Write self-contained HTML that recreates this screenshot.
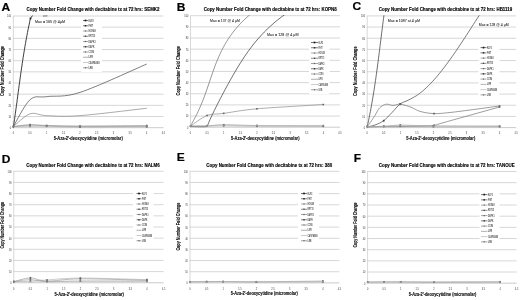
<!DOCTYPE html>
<html><head><meta charset="utf-8"><title>Figure</title><style>html,body{margin:0;padding:0;background:#fff}body{width:520px;height:300px;overflow:hidden;font-family:"Liberation Sans",sans-serif}svg{display:block}</style></head><body>
<svg width="520" height="300" viewBox="0 0 520 300">
<defs><filter id="bl" x="0" y="0" width="520" height="300" filterUnits="userSpaceOnUse"><feGaussianBlur stdDeviation="0.38"/></filter></defs>
<rect width="520" height="300" fill="#fff"/>
<g filter="url(#bl)">
<line x1="13.00" y1="127.70" x2="163.42" y2="127.70" stroke="#b4b4b4" stroke-width="0.7"/>
<line x1="13.00" y1="116.53" x2="163.42" y2="116.53" stroke="#c6c6c6" stroke-width="0.7"/>
<line x1="13.00" y1="105.36" x2="163.42" y2="105.36" stroke="#c6c6c6" stroke-width="0.7"/>
<line x1="13.00" y1="94.19" x2="163.42" y2="94.19" stroke="#c6c6c6" stroke-width="0.7"/>
<line x1="13.00" y1="83.02" x2="163.42" y2="83.02" stroke="#c6c6c6" stroke-width="0.7"/>
<line x1="13.00" y1="71.85" x2="163.42" y2="71.85" stroke="#c6c6c6" stroke-width="0.7"/>
<line x1="13.00" y1="60.68" x2="163.42" y2="60.68" stroke="#c6c6c6" stroke-width="0.7"/>
<line x1="13.00" y1="49.51" x2="163.42" y2="49.51" stroke="#c6c6c6" stroke-width="0.7"/>
<line x1="13.00" y1="38.34" x2="163.42" y2="38.34" stroke="#c6c6c6" stroke-width="0.7"/>
<line x1="13.00" y1="27.17" x2="163.42" y2="27.17" stroke="#c6c6c6" stroke-width="0.7"/>
<line x1="13.00" y1="16.00" x2="163.42" y2="16.00" stroke="#c6c6c6" stroke-width="0.7"/>
<line x1="13.30" y1="16.00" x2="13.30" y2="128.70" stroke="#bdbdbd" stroke-width="0.6"/>
<text transform="translate(11.10 129.10) scale(0.0800 0.1)" font-size="30.0" fill="#333" text-anchor="end" font-family="Liberation Sans, sans-serif">0</text>
<text transform="translate(11.10 117.93) scale(0.0800 0.1)" font-size="30.0" fill="#333" text-anchor="end" font-family="Liberation Sans, sans-serif">10</text>
<text transform="translate(11.10 106.76) scale(0.0800 0.1)" font-size="30.0" fill="#333" text-anchor="end" font-family="Liberation Sans, sans-serif">20</text>
<text transform="translate(11.10 95.59) scale(0.0800 0.1)" font-size="30.0" fill="#333" text-anchor="end" font-family="Liberation Sans, sans-serif">30</text>
<text transform="translate(11.10 84.42) scale(0.0800 0.1)" font-size="30.0" fill="#333" text-anchor="end" font-family="Liberation Sans, sans-serif">40</text>
<text transform="translate(11.10 73.25) scale(0.0800 0.1)" font-size="30.0" fill="#333" text-anchor="end" font-family="Liberation Sans, sans-serif">50</text>
<text transform="translate(11.10 62.08) scale(0.0800 0.1)" font-size="30.0" fill="#333" text-anchor="end" font-family="Liberation Sans, sans-serif">60</text>
<text transform="translate(11.10 50.91) scale(0.0800 0.1)" font-size="30.0" fill="#333" text-anchor="end" font-family="Liberation Sans, sans-serif">70</text>
<text transform="translate(11.10 39.74) scale(0.0800 0.1)" font-size="30.0" fill="#333" text-anchor="end" font-family="Liberation Sans, sans-serif">80</text>
<text transform="translate(11.10 28.57) scale(0.0800 0.1)" font-size="30.0" fill="#333" text-anchor="end" font-family="Liberation Sans, sans-serif">90</text>
<text transform="translate(11.10 17.40) scale(0.0800 0.1)" font-size="30.0" fill="#333" text-anchor="end" font-family="Liberation Sans, sans-serif">100</text>
<text transform="translate(13.30 133.60) scale(0.0800 0.1)" font-size="30.0" fill="#333" text-anchor="middle" font-family="Liberation Sans, sans-serif">0</text>
<text transform="translate(29.98 133.60) scale(0.0800 0.1)" font-size="30.0" fill="#333" text-anchor="middle" font-family="Liberation Sans, sans-serif">0.5</text>
<text transform="translate(46.66 133.60) scale(0.0800 0.1)" font-size="30.0" fill="#333" text-anchor="middle" font-family="Liberation Sans, sans-serif">1</text>
<text transform="translate(63.34 133.60) scale(0.0800 0.1)" font-size="30.0" fill="#333" text-anchor="middle" font-family="Liberation Sans, sans-serif">1.5</text>
<text transform="translate(80.02 133.60) scale(0.0800 0.1)" font-size="30.0" fill="#333" text-anchor="middle" font-family="Liberation Sans, sans-serif">2</text>
<text transform="translate(96.70 133.60) scale(0.0800 0.1)" font-size="30.0" fill="#333" text-anchor="middle" font-family="Liberation Sans, sans-serif">2.5</text>
<text transform="translate(113.38 133.60) scale(0.0800 0.1)" font-size="30.0" fill="#333" text-anchor="middle" font-family="Liberation Sans, sans-serif">3</text>
<text transform="translate(130.06 133.60) scale(0.0800 0.1)" font-size="30.0" fill="#333" text-anchor="middle" font-family="Liberation Sans, sans-serif">3.5</text>
<text transform="translate(146.74 133.60) scale(0.0800 0.1)" font-size="30.0" fill="#333" text-anchor="middle" font-family="Liberation Sans, sans-serif">4</text>
<text transform="translate(163.42 133.60) scale(0.0800 0.1)" font-size="30.0" fill="#333" text-anchor="middle" font-family="Liberation Sans, sans-serif">4.5</text>
<clipPath id="cA"><rect x="12.30" y="15.40" width="152.12" height="114.70"/></clipPath>
<g clip-path="url(#cA)" fill="none">
<path d="M13.30 127.70 C13.37 127.23 13.58 125.83 13.71 124.90 C13.85 123.97 13.99 123.03 14.12 122.10 C14.26 121.17 14.39 120.23 14.53 119.30 C14.66 118.37 14.79 117.43 14.92 116.50 C15.05 115.57 15.19 114.63 15.32 113.70 C15.45 112.77 15.57 111.83 15.70 110.90 C15.83 109.97 15.96 109.03 16.09 108.10 C16.21 107.17 16.34 106.23 16.47 105.30 C16.59 104.37 16.72 103.43 16.85 102.50 C16.97 101.57 17.10 100.63 17.22 99.70 C17.35 98.77 17.47 97.83 17.60 96.90 C17.72 95.97 17.85 95.03 17.98 94.10 C18.10 93.17 18.23 92.23 18.35 91.30 C18.48 90.37 18.60 89.43 18.73 88.50 C18.85 87.57 18.98 86.63 19.11 85.70 C19.23 84.77 19.36 83.83 19.49 82.90 C19.61 81.97 19.74 81.03 19.87 80.10 C20.00 79.17 20.13 78.23 20.26 77.30 C20.39 76.37 20.52 75.43 20.65 74.50 C20.78 73.57 20.91 72.63 21.05 71.70 C21.18 70.77 21.32 69.83 21.45 68.90 C21.59 67.97 21.72 67.03 21.86 66.10 C22.00 65.17 22.14 64.23 22.28 63.30 C22.42 62.37 22.56 61.43 22.70 60.50 C22.84 59.57 22.99 58.63 23.13 57.70 C23.28 56.77 23.42 55.83 23.57 54.90 C23.72 53.97 23.87 53.03 24.02 52.10 C24.18 51.17 24.33 50.23 24.49 49.30 C24.64 48.37 24.80 47.43 24.96 46.50 C25.12 45.57 25.28 44.63 25.44 43.70 C25.61 42.77 25.77 41.83 25.94 40.90 C26.11 39.97 26.28 39.03 26.45 38.10 C26.62 37.17 26.80 36.23 26.97 35.30 C27.15 34.37 27.33 33.43 27.51 32.50 C27.69 31.57 27.88 30.63 28.06 29.70 C28.25 28.77 28.44 27.83 28.63 26.90 C28.82 25.97 29.02 25.03 29.22 24.10 C29.42 23.17 29.62 22.23 29.82 21.30 C30.02 20.37 29.99 19.45 30.44 18.50 C30.89 17.55 31.74 17.02 32.50 15.60 C33.26 14.18 34.58 10.93 35.00 10.00" stroke="#1a1a1a" stroke-width="0.85"/>
<rect x="29.65" y="17.65" width="1.7" height="1.7" fill="#1a1a1a" stroke="none"/>
<path d="M43.00 15.90 C43.75 15.87 46.75 15.73 47.50 15.70" stroke="#222" stroke-width="0.90"/>
<path d="M13.30 126.58 C16.08 122.11 24.42 104.76 29.98 99.78 C35.54 94.79 38.32 97.88 46.66 96.65 C55.00 95.42 63.34 97.84 80.02 92.40 C96.70 86.97 135.62 68.76 146.74 64.03" stroke="#484848" stroke-width="0.70"/>
<path d="M13.30 126.58 C16.08 124.46 24.42 115.67 29.98 113.85 C35.54 112.02 38.32 115.34 46.66 115.64 C55.00 115.93 63.34 116.87 80.02 115.64 C96.70 114.41 135.62 109.49 146.74 108.26" stroke="#7c7c7c" stroke-width="0.65"/>
<path d="M13.30 126.58 C16.08 126.36 24.42 125.39 29.98 125.24 C35.54 125.09 38.32 125.47 46.66 125.69 C55.00 125.91 63.34 126.47 80.02 126.58 C96.70 126.69 135.62 126.40 146.74 126.36" stroke="#777" stroke-width="0.50"/>
<rect x="12.50" y="125.78" width="1.6" height="1.6" fill="#444" stroke="none"/>
<rect x="29.18" y="124.44" width="1.6" height="1.6" fill="#444" stroke="none"/>
<rect x="45.86" y="124.89" width="1.6" height="1.6" fill="#444" stroke="none"/>
<rect x="79.22" y="125.78" width="1.6" height="1.6" fill="#444" stroke="none"/>
<rect x="145.94" y="125.56" width="1.6" height="1.6" fill="#444" stroke="none"/>
<path d="M13.30 126.58 C16.08 126.49 24.42 126.06 29.98 126.02 C35.54 125.99 38.32 126.19 46.66 126.36 C55.00 126.53 63.34 126.96 80.02 127.03 C96.70 127.10 135.62 126.84 146.74 126.81" stroke="#9a9a9a" stroke-width="0.50"/>
<rect x="12.50" y="125.78" width="1.6" height="1.6" fill="#666" stroke="none"/>
<rect x="29.18" y="125.22" width="1.6" height="1.6" fill="#666" stroke="none"/>
<rect x="45.86" y="125.56" width="1.6" height="1.6" fill="#666" stroke="none"/>
<rect x="79.22" y="126.23" width="1.6" height="1.6" fill="#666" stroke="none"/>
<rect x="145.94" y="126.01" width="1.6" height="1.6" fill="#666" stroke="none"/>
<path d="M13.30 126.58 C16.08 126.58 24.42 126.68 29.98 126.58 C35.54 126.49 38.32 126.10 46.66 126.02 C55.00 125.95 63.34 126.15 80.02 126.14 C96.70 126.12 135.62 125.95 146.74 125.91" stroke="#b8b8b8" stroke-width="0.50"/>
<rect x="12.50" y="125.78" width="1.6" height="1.6" fill="#999" stroke="none"/>
<rect x="29.18" y="125.78" width="1.6" height="1.6" fill="#999" stroke="none"/>
<rect x="45.86" y="125.22" width="1.6" height="1.6" fill="#999" stroke="none"/>
<rect x="79.22" y="125.34" width="1.6" height="1.6" fill="#999" stroke="none"/>
<rect x="145.94" y="125.11" width="1.6" height="1.6" fill="#999" stroke="none"/>
<path d="M13.30 126.58 C16.08 126.25 24.42 124.76 29.98 124.57 C35.54 124.39 38.32 125.22 46.66 125.47 C55.00 125.71 63.34 126.02 80.02 126.02 C96.70 126.02 135.62 125.56 146.74 125.47" stroke="#8a8a8a" stroke-width="0.50"/>
<rect x="12.50" y="125.78" width="1.6" height="1.6" fill="#777" stroke="none"/>
<rect x="29.18" y="123.77" width="1.6" height="1.6" fill="#777" stroke="none"/>
<rect x="45.86" y="124.67" width="1.6" height="1.6" fill="#777" stroke="none"/>
<rect x="79.22" y="125.22" width="1.6" height="1.6" fill="#777" stroke="none"/>
<rect x="145.94" y="124.67" width="1.6" height="1.6" fill="#777" stroke="none"/>
</g>
<rect x="81.00" y="17.50" width="21.00" height="54.50" fill="#fff"/>
<line x1="83.00" y1="20.50" x2="88.00" y2="20.50" stroke="#1a1a1a" stroke-width="0.6"/>
<rect x="84.65" y="19.65" width="1.70" height="1.70" fill="#1a1a1a"/>
<text transform="translate(88.50 21.50) scale(0.0720 0.1)" font-size="29.0" fill="#4c4c4c" font-weight="bold" font-family="Liberation Sans, sans-serif">KLF2</text>
<line x1="83.00" y1="25.75" x2="88.00" y2="25.75" stroke="#2a2a2a" stroke-width="0.6"/>
<rect x="84.75" y="25.00" width="1.50" height="1.50" fill="#2a2a2a"/>
<text transform="translate(88.50 26.75) scale(0.0720 0.1)" font-size="29.0" fill="#4c4c4c" font-weight="bold" font-family="Liberation Sans, sans-serif">FHIT</text>
<line x1="83.00" y1="31.00" x2="88.00" y2="31.00" stroke="#777" stroke-width="0.6"/>
<rect x="84.85" y="30.35" width="1.30" height="1.30" fill="#777"/>
<text transform="translate(88.50 32.00) scale(0.0720 0.1)" font-size="29.0" fill="#4c4c4c" font-weight="bold" font-family="Liberation Sans, sans-serif">HOXA9</text>
<line x1="83.00" y1="36.25" x2="88.00" y2="36.25" stroke="#444" stroke-width="0.6"/>
<rect x="84.85" y="35.60" width="1.30" height="1.30" fill="#444"/>
<text transform="translate(88.50 37.25) scale(0.0720 0.1)" font-size="29.0" fill="#4c4c4c" font-weight="bold" font-family="Liberation Sans, sans-serif">KRT15</text>
<line x1="83.00" y1="41.50" x2="88.00" y2="41.50" stroke="#666" stroke-width="0.6"/>
<rect x="84.85" y="40.85" width="1.30" height="1.30" fill="#666"/>
<text transform="translate(88.50 42.50) scale(0.0720 0.1)" font-size="29.0" fill="#4c4c4c" font-weight="bold" font-family="Liberation Sans, sans-serif">DAPK1</text>
<line x1="83.00" y1="46.75" x2="88.00" y2="46.75" stroke="#333" stroke-width="0.6"/>
<rect x="84.80" y="46.05" width="1.40" height="1.40" fill="#333"/>
<text transform="translate(88.50 47.75) scale(0.0720 0.1)" font-size="29.0" fill="#4c4c4c" font-weight="bold" font-family="Liberation Sans, sans-serif">DAPK</text>
<line x1="83.00" y1="52.00" x2="88.00" y2="52.00" stroke="#666" stroke-width="0.6"/>
<rect x="84.95" y="51.45" width="1.10" height="1.10" fill="#666"/>
<text transform="translate(88.50 53.00) scale(0.0720 0.1)" font-size="29.0" fill="#4c4c4c" font-weight="bold" font-family="Liberation Sans, sans-serif">CCR6</text>
<line x1="83.00" y1="57.25" x2="88.00" y2="57.25" stroke="#777" stroke-width="0.6"/>
<text transform="translate(88.50 58.25) scale(0.0720 0.1)" font-size="29.0" fill="#4c4c4c" font-weight="bold" font-family="Liberation Sans, sans-serif">LIFR</text>
<line x1="83.00" y1="62.50" x2="88.00" y2="62.50" stroke="#aaa" stroke-width="0.6"/>
<text transform="translate(88.50 63.50) scale(0.0720 0.1)" font-size="29.0" fill="#4c4c4c" font-weight="bold" font-family="Liberation Sans, sans-serif">CASPASE8</text>
<line x1="83.00" y1="67.75" x2="88.00" y2="67.75" stroke="#666" stroke-width="0.6"/>
<rect x="84.90" y="67.15" width="1.20" height="1.20" fill="#666"/>
<text transform="translate(88.50 68.75) scale(0.0720 0.1)" font-size="29.0" fill="#4c4c4c" font-weight="bold" font-family="Liberation Sans, sans-serif">LRB</text>
<text transform="translate(35.00 23.30) scale(0.1000 0.1)" font-size="42.0" fill="#111" stroke="#111" stroke-width="0.3" textLength="300.0" lengthAdjust="spacingAndGlyphs" font-family="Liberation Sans, sans-serif">Max = 165 @ 4μM</text>
<text transform="translate(26.50 10.90) scale(0.1000 0.1)" font-size="51.0" fill="#000" font-weight="bold" stroke="#000" stroke-width="1.4" textLength="1330.0" lengthAdjust="spacingAndGlyphs" font-family="Liberation Sans, sans-serif">Copy Number Fold Change with decitabine tx at 72 hrs: SEMK2</text>
<text transform="translate(1.50 10.50) scale(0.1060 0.1)" font-size="113.0" fill="#000" font-weight="bold" stroke="#000" stroke-width="2.0" font-family="Liberation Sans, sans-serif">A</text>
<text transform="translate(53.75 140.00) scale(0.1000 0.1)" font-size="46.0" fill="#0a0a0a" font-weight="bold" stroke="#0a0a0a" stroke-width="1.0" textLength="690.0" lengthAdjust="spacingAndGlyphs" font-family="Liberation Sans, sans-serif">5-Aza-2'-deoxycytidine (micromolar)</text>
<text transform="translate(4.10 71.00) rotate(-90) scale(0.1000 0.1)" font-size="46.0" fill="#0a0a0a" text-anchor="middle" font-weight="bold" stroke="#0a0a0a" stroke-width="1.0" textLength="500.0" lengthAdjust="spacingAndGlyphs" font-family="Liberation Sans, sans-serif">Copy Number Fold Change</text>
<line x1="190.20" y1="127.20" x2="339.90" y2="127.20" stroke="#b4b4b4" stroke-width="0.7"/>
<line x1="190.20" y1="116.05" x2="339.90" y2="116.05" stroke="#c6c6c6" stroke-width="0.7"/>
<line x1="190.20" y1="104.90" x2="339.90" y2="104.90" stroke="#c6c6c6" stroke-width="0.7"/>
<line x1="190.20" y1="93.75" x2="339.90" y2="93.75" stroke="#c6c6c6" stroke-width="0.7"/>
<line x1="190.20" y1="82.60" x2="339.90" y2="82.60" stroke="#c6c6c6" stroke-width="0.7"/>
<line x1="190.20" y1="71.45" x2="339.90" y2="71.45" stroke="#c6c6c6" stroke-width="0.7"/>
<line x1="190.20" y1="60.30" x2="339.90" y2="60.30" stroke="#c6c6c6" stroke-width="0.7"/>
<line x1="190.20" y1="49.15" x2="339.90" y2="49.15" stroke="#c6c6c6" stroke-width="0.7"/>
<line x1="190.20" y1="38.00" x2="339.90" y2="38.00" stroke="#c6c6c6" stroke-width="0.7"/>
<line x1="190.20" y1="26.85" x2="339.90" y2="26.85" stroke="#c6c6c6" stroke-width="0.7"/>
<line x1="190.20" y1="15.70" x2="339.90" y2="15.70" stroke="#c6c6c6" stroke-width="0.7"/>
<line x1="190.50" y1="15.70" x2="190.50" y2="128.20" stroke="#bdbdbd" stroke-width="0.6"/>
<text transform="translate(188.30 128.60) scale(0.0800 0.1)" font-size="30.0" fill="#333" text-anchor="end" font-family="Liberation Sans, sans-serif">0</text>
<text transform="translate(188.30 117.45) scale(0.0800 0.1)" font-size="30.0" fill="#333" text-anchor="end" font-family="Liberation Sans, sans-serif">10</text>
<text transform="translate(188.30 106.30) scale(0.0800 0.1)" font-size="30.0" fill="#333" text-anchor="end" font-family="Liberation Sans, sans-serif">20</text>
<text transform="translate(188.30 95.15) scale(0.0800 0.1)" font-size="30.0" fill="#333" text-anchor="end" font-family="Liberation Sans, sans-serif">30</text>
<text transform="translate(188.30 84.00) scale(0.0800 0.1)" font-size="30.0" fill="#333" text-anchor="end" font-family="Liberation Sans, sans-serif">40</text>
<text transform="translate(188.30 72.85) scale(0.0800 0.1)" font-size="30.0" fill="#333" text-anchor="end" font-family="Liberation Sans, sans-serif">50</text>
<text transform="translate(188.30 61.70) scale(0.0800 0.1)" font-size="30.0" fill="#333" text-anchor="end" font-family="Liberation Sans, sans-serif">60</text>
<text transform="translate(188.30 50.55) scale(0.0800 0.1)" font-size="30.0" fill="#333" text-anchor="end" font-family="Liberation Sans, sans-serif">70</text>
<text transform="translate(188.30 39.40) scale(0.0800 0.1)" font-size="30.0" fill="#333" text-anchor="end" font-family="Liberation Sans, sans-serif">80</text>
<text transform="translate(188.30 28.25) scale(0.0800 0.1)" font-size="30.0" fill="#333" text-anchor="end" font-family="Liberation Sans, sans-serif">90</text>
<text transform="translate(188.30 17.10) scale(0.0800 0.1)" font-size="30.0" fill="#333" text-anchor="end" font-family="Liberation Sans, sans-serif">100</text>
<text transform="translate(190.50 133.60) scale(0.0800 0.1)" font-size="30.0" fill="#333" text-anchor="middle" font-family="Liberation Sans, sans-serif">0</text>
<text transform="translate(207.10 133.60) scale(0.0800 0.1)" font-size="30.0" fill="#333" text-anchor="middle" font-family="Liberation Sans, sans-serif">0.5</text>
<text transform="translate(223.70 133.60) scale(0.0800 0.1)" font-size="30.0" fill="#333" text-anchor="middle" font-family="Liberation Sans, sans-serif">1</text>
<text transform="translate(240.30 133.60) scale(0.0800 0.1)" font-size="30.0" fill="#333" text-anchor="middle" font-family="Liberation Sans, sans-serif">1.5</text>
<text transform="translate(256.90 133.60) scale(0.0800 0.1)" font-size="30.0" fill="#333" text-anchor="middle" font-family="Liberation Sans, sans-serif">2</text>
<text transform="translate(273.50 133.60) scale(0.0800 0.1)" font-size="30.0" fill="#333" text-anchor="middle" font-family="Liberation Sans, sans-serif">2.5</text>
<text transform="translate(290.10 133.60) scale(0.0800 0.1)" font-size="30.0" fill="#333" text-anchor="middle" font-family="Liberation Sans, sans-serif">3</text>
<text transform="translate(306.70 133.60) scale(0.0800 0.1)" font-size="30.0" fill="#333" text-anchor="middle" font-family="Liberation Sans, sans-serif">3.5</text>
<text transform="translate(323.30 133.60) scale(0.0800 0.1)" font-size="30.0" fill="#333" text-anchor="middle" font-family="Liberation Sans, sans-serif">4</text>
<text transform="translate(339.90 133.60) scale(0.0800 0.1)" font-size="30.0" fill="#333" text-anchor="middle" font-family="Liberation Sans, sans-serif">4.5</text>
<clipPath id="cB"><rect x="189.50" y="15.10" width="151.40" height="114.50"/></clipPath>
<g clip-path="url(#cB)" fill="none">
<path d="M190.02 126.50 C190.33 125.99 191.25 124.47 191.85 123.46 C192.44 122.45 193.01 121.44 193.57 120.42 C194.13 119.41 194.67 118.40 195.20 117.38 C195.73 116.37 196.24 115.36 196.74 114.35 C197.24 113.33 197.73 112.32 198.20 111.31 C198.68 110.29 199.14 109.28 199.59 108.27 C200.04 107.26 200.47 106.24 200.90 105.23 C201.33 104.22 201.74 103.21 202.15 102.19 C202.56 101.18 202.96 100.17 203.35 99.15 C203.74 98.14 204.12 97.13 204.50 96.12 C204.87 95.10 205.24 94.09 205.61 93.08 C205.97 92.06 206.33 91.05 206.68 90.04 C207.04 89.03 207.39 88.01 207.73 87.00 C208.08 85.99 208.43 84.97 208.77 83.96 C209.11 82.95 209.45 81.94 209.80 80.92 C210.14 79.91 210.48 78.90 210.82 77.88 C211.17 76.87 211.51 75.86 211.86 74.85 C212.21 73.83 212.56 72.82 212.92 71.81 C213.27 70.79 213.63 69.78 214.00 68.77 C214.37 67.76 214.74 66.74 215.12 65.73 C215.50 64.72 215.89 63.71 216.29 62.69 C216.69 61.68 217.10 60.67 217.52 59.65 C217.94 58.64 218.37 57.63 218.82 56.62 C219.26 55.60 219.72 54.59 220.19 53.58 C220.66 52.56 221.15 51.55 221.66 50.54 C222.16 49.53 222.68 48.51 223.22 47.50 C223.76 46.49 224.32 45.47 224.90 44.46 C225.48 43.45 226.08 42.44 226.70 41.42 C227.33 40.41 227.97 39.40 228.64 38.38 C229.31 37.37 230.01 36.36 230.73 35.35 C231.45 34.33 232.20 33.32 232.98 32.31 C233.75 31.29 234.56 30.28 235.39 29.27 C236.23 28.26 237.10 27.24 238.00 26.23 C238.90 25.22 239.83 24.21 240.80 23.19 C241.77 22.18 242.77 21.17 243.82 20.15 C244.86 19.14 245.94 18.13 247.05 17.12 C248.17 16.10 249.33 15.09 250.53 14.08 C251.73 13.06 252.98 12.05 254.26 11.04 C255.55 10.03 257.60 8.51 258.26 8.00" stroke="#6a6a6a" stroke-width="0.70"/>
<path d="M190.50 126.50 C191.92 126.53 196.42 126.68 199.00 126.70 C201.58 126.72 204.59 126.80 206.00 126.60 C207.41 126.40 207.01 126.19 207.47 125.50 C207.93 124.81 208.32 123.49 208.75 122.49 C209.19 121.48 209.64 120.48 210.09 119.47 C210.54 118.47 211.00 117.47 211.47 116.46 C211.94 115.46 212.41 114.45 212.89 113.45 C213.37 112.44 213.86 111.44 214.35 110.44 C214.84 109.43 215.34 108.43 215.84 107.42 C216.34 106.42 216.84 105.41 217.35 104.41 C217.86 103.41 218.37 102.40 218.89 101.40 C219.40 100.39 219.92 99.39 220.45 98.38 C220.97 97.38 221.49 96.38 222.02 95.37 C222.55 94.37 223.08 93.36 223.62 92.36 C224.15 91.35 224.69 90.35 225.23 89.35 C225.77 88.34 226.31 87.34 226.86 86.33 C227.41 85.33 227.96 84.32 228.51 83.32 C229.06 82.32 229.62 81.31 230.18 80.31 C230.74 79.30 231.31 78.30 231.88 77.29 C232.45 76.29 233.02 75.29 233.60 74.28 C234.18 73.28 234.77 72.27 235.36 71.27 C235.95 70.26 236.55 69.26 237.15 68.26 C237.75 67.25 238.36 66.25 238.98 65.24 C239.60 64.24 240.23 63.24 240.87 62.23 C241.50 61.23 242.15 60.22 242.80 59.22 C243.46 58.21 244.12 57.21 244.80 56.21 C245.48 55.20 246.17 54.20 246.87 53.19 C247.58 52.19 248.29 51.18 249.03 50.18 C249.76 49.18 250.51 48.17 251.27 47.17 C252.03 46.16 252.81 45.16 253.61 44.15 C254.41 43.15 255.23 42.15 256.07 41.14 C256.91 40.14 257.77 39.13 258.65 38.13 C259.54 37.12 260.44 36.12 261.37 35.12 C262.30 34.11 263.26 33.11 264.24 32.10 C265.23 31.10 266.23 30.09 267.28 29.09 C268.32 28.09 269.39 27.08 270.49 26.08 C271.60 25.07 272.73 24.07 273.90 23.06 C275.08 22.06 276.28 21.06 277.53 20.05 C278.77 19.05 280.05 18.04 281.38 17.04 C282.71 16.03 284.07 15.03 285.48 14.03 C286.89 13.02 288.34 12.02 289.85 11.01 C291.35 10.01 293.72 8.50 294.50 8.00" stroke="#303030" stroke-width="0.70"/>
<path d="M190.50 126.09 C193.27 124.32 201.57 117.61 207.10 115.49 C212.63 113.37 215.40 114.49 223.70 113.37 C232.00 112.26 240.30 110.27 256.90 108.80 C273.50 107.33 312.23 105.27 323.30 104.57" stroke="#777" stroke-width="0.60"/>
<rect x="189.70" y="125.29" width="1.6" height="1.6" fill="#666" stroke="none"/>
<rect x="206.30" y="114.69" width="1.6" height="1.6" fill="#666" stroke="none"/>
<rect x="222.90" y="112.57" width="1.6" height="1.6" fill="#666" stroke="none"/>
<rect x="256.10" y="108.00" width="1.6" height="1.6" fill="#666" stroke="none"/>
<rect x="322.50" y="103.77" width="1.6" height="1.6" fill="#666" stroke="none"/>
<path d="M190.50 126.09 C193.27 126.05 201.57 126.09 207.10 125.86 C212.63 125.64 215.40 124.80 223.70 124.75 C232.00 124.69 240.30 125.34 256.90 125.53 C273.50 125.71 312.23 125.81 323.30 125.86" stroke="#777" stroke-width="0.50"/>
<rect x="189.70" y="125.29" width="1.6" height="1.6" fill="#444" stroke="none"/>
<rect x="206.30" y="125.06" width="1.6" height="1.6" fill="#444" stroke="none"/>
<rect x="222.90" y="123.95" width="1.6" height="1.6" fill="#444" stroke="none"/>
<rect x="256.10" y="124.73" width="1.6" height="1.6" fill="#444" stroke="none"/>
<rect x="322.50" y="125.06" width="1.6" height="1.6" fill="#444" stroke="none"/>
<path d="M190.50 126.09 C193.27 126.09 201.57 126.12 207.10 126.09 C212.63 126.05 215.40 125.82 223.70 125.86 C232.00 125.90 240.30 126.23 256.90 126.31 C273.50 126.38 312.23 126.31 323.30 126.31" stroke="#9a9a9a" stroke-width="0.50"/>
<rect x="189.70" y="125.29" width="1.6" height="1.6" fill="#666" stroke="none"/>
<rect x="206.30" y="125.29" width="1.6" height="1.6" fill="#666" stroke="none"/>
<rect x="222.90" y="125.06" width="1.6" height="1.6" fill="#666" stroke="none"/>
<rect x="256.10" y="125.51" width="1.6" height="1.6" fill="#666" stroke="none"/>
<rect x="322.50" y="125.51" width="1.6" height="1.6" fill="#666" stroke="none"/>
<path d="M190.50 126.09 C193.27 126.09 201.57 126.23 207.10 126.09 C212.63 125.94 215.40 125.27 223.70 125.19 C232.00 125.12 240.30 125.60 256.90 125.64 C273.50 125.68 312.23 125.45 323.30 125.42" stroke="#b8b8b8" stroke-width="0.50"/>
<rect x="189.70" y="125.29" width="1.6" height="1.6" fill="#999" stroke="none"/>
<rect x="206.30" y="125.29" width="1.6" height="1.6" fill="#999" stroke="none"/>
<rect x="222.90" y="124.39" width="1.6" height="1.6" fill="#999" stroke="none"/>
<rect x="256.10" y="124.84" width="1.6" height="1.6" fill="#999" stroke="none"/>
<rect x="322.50" y="124.62" width="1.6" height="1.6" fill="#999" stroke="none"/>
</g>
<rect x="309.00" y="39.50" width="20.50" height="54.50" fill="#fff"/>
<line x1="311.00" y1="42.50" x2="318.00" y2="42.50" stroke="#1a1a1a" stroke-width="0.6"/>
<rect x="313.65" y="41.65" width="1.70" height="1.70" fill="#1a1a1a"/>
<text transform="translate(318.50 43.50) scale(0.0620 0.1)" font-size="29.0" fill="#4c4c4c" font-weight="bold" font-family="Liberation Sans, sans-serif">KLF2</text>
<line x1="311.00" y1="47.75" x2="318.00" y2="47.75" stroke="#2a2a2a" stroke-width="0.6"/>
<rect x="313.75" y="47.00" width="1.50" height="1.50" fill="#2a2a2a"/>
<text transform="translate(318.50 48.75) scale(0.0620 0.1)" font-size="29.0" fill="#4c4c4c" font-weight="bold" font-family="Liberation Sans, sans-serif">FHIT</text>
<line x1="311.00" y1="53.00" x2="318.00" y2="53.00" stroke="#777" stroke-width="0.6"/>
<rect x="313.85" y="52.35" width="1.30" height="1.30" fill="#777"/>
<text transform="translate(318.50 54.00) scale(0.0620 0.1)" font-size="29.0" fill="#4c4c4c" font-weight="bold" font-family="Liberation Sans, sans-serif">HOXA9</text>
<line x1="311.00" y1="58.25" x2="318.00" y2="58.25" stroke="#444" stroke-width="0.6"/>
<rect x="313.85" y="57.60" width="1.30" height="1.30" fill="#444"/>
<text transform="translate(318.50 59.25) scale(0.0620 0.1)" font-size="29.0" fill="#4c4c4c" font-weight="bold" font-family="Liberation Sans, sans-serif">KRT15</text>
<line x1="311.00" y1="63.50" x2="318.00" y2="63.50" stroke="#666" stroke-width="0.6"/>
<rect x="313.85" y="62.85" width="1.30" height="1.30" fill="#666"/>
<text transform="translate(318.50 64.50) scale(0.0620 0.1)" font-size="29.0" fill="#4c4c4c" font-weight="bold" font-family="Liberation Sans, sans-serif">DAPK1</text>
<line x1="311.00" y1="68.75" x2="318.00" y2="68.75" stroke="#333" stroke-width="0.6"/>
<rect x="313.80" y="68.05" width="1.40" height="1.40" fill="#333"/>
<text transform="translate(318.50 69.75) scale(0.0620 0.1)" font-size="29.0" fill="#4c4c4c" font-weight="bold" font-family="Liberation Sans, sans-serif">DAPK</text>
<line x1="311.00" y1="74.00" x2="318.00" y2="74.00" stroke="#666" stroke-width="0.6"/>
<rect x="313.95" y="73.45" width="1.10" height="1.10" fill="#666"/>
<text transform="translate(318.50 75.00) scale(0.0620 0.1)" font-size="29.0" fill="#4c4c4c" font-weight="bold" font-family="Liberation Sans, sans-serif">CCR6</text>
<line x1="311.00" y1="79.25" x2="318.00" y2="79.25" stroke="#777" stroke-width="0.6"/>
<text transform="translate(318.50 80.25) scale(0.0620 0.1)" font-size="29.0" fill="#4c4c4c" font-weight="bold" font-family="Liberation Sans, sans-serif">LIFR</text>
<line x1="311.00" y1="84.50" x2="318.00" y2="84.50" stroke="#aaa" stroke-width="0.6"/>
<text transform="translate(318.50 85.50) scale(0.0620 0.1)" font-size="29.0" fill="#4c4c4c" font-weight="bold" font-family="Liberation Sans, sans-serif">CASPASE8</text>
<line x1="311.00" y1="89.75" x2="318.00" y2="89.75" stroke="#666" stroke-width="0.6"/>
<rect x="313.90" y="89.15" width="1.20" height="1.20" fill="#666"/>
<text transform="translate(318.50 90.75) scale(0.0620 0.1)" font-size="29.0" fill="#4c4c4c" font-weight="bold" font-family="Liberation Sans, sans-serif">LRB</text>
<text transform="translate(210.00 22.40) scale(0.1000 0.1)" font-size="42.0" fill="#111" stroke="#111" stroke-width="0.3" textLength="300.0" lengthAdjust="spacingAndGlyphs" font-family="Liberation Sans, sans-serif">Max = 137 @ 4 μM</text>
<text transform="translate(267.00 36.30) scale(0.1000 0.1)" font-size="42.0" fill="#111" stroke="#111" stroke-width="0.3" textLength="315.0" lengthAdjust="spacingAndGlyphs" font-family="Liberation Sans, sans-serif">Max = 128 @ 4 μM</text>
<text transform="translate(203.75 10.90) scale(0.1000 0.1)" font-size="51.0" fill="#000" font-weight="bold" stroke="#000" stroke-width="1.4" textLength="1330.0" lengthAdjust="spacingAndGlyphs" font-family="Liberation Sans, sans-serif">Copy Number Fold Change with decitabine tx at 72 hrs: KOPN8</text>
<text transform="translate(176.70 10.50) scale(0.1060 0.1)" font-size="113.0" fill="#000" font-weight="bold" stroke="#000" stroke-width="2.0" font-family="Liberation Sans, sans-serif">B</text>
<text transform="translate(231.00 140.00) scale(0.1000 0.1)" font-size="46.0" fill="#0a0a0a" font-weight="bold" stroke="#0a0a0a" stroke-width="1.0" textLength="685.0" lengthAdjust="spacingAndGlyphs" font-family="Liberation Sans, sans-serif">5-Aza-2'-deoxycytidine (micromolar)</text>
<text transform="translate(180.20 70.80) rotate(-90) scale(0.1000 0.1)" font-size="46.0" fill="#0a0a0a" text-anchor="middle" font-weight="bold" stroke="#0a0a0a" stroke-width="1.0" textLength="496.0" lengthAdjust="spacingAndGlyphs" font-family="Liberation Sans, sans-serif">Copy Number Fold Change</text>
<line x1="366.90" y1="127.60" x2="516.15" y2="127.60" stroke="#b4b4b4" stroke-width="0.7"/>
<line x1="366.90" y1="116.43" x2="516.15" y2="116.43" stroke="#c6c6c6" stroke-width="0.7"/>
<line x1="366.90" y1="105.26" x2="516.15" y2="105.26" stroke="#c6c6c6" stroke-width="0.7"/>
<line x1="366.90" y1="94.09" x2="516.15" y2="94.09" stroke="#c6c6c6" stroke-width="0.7"/>
<line x1="366.90" y1="82.92" x2="516.15" y2="82.92" stroke="#c6c6c6" stroke-width="0.7"/>
<line x1="366.90" y1="71.75" x2="516.15" y2="71.75" stroke="#c6c6c6" stroke-width="0.7"/>
<line x1="366.90" y1="60.58" x2="516.15" y2="60.58" stroke="#c6c6c6" stroke-width="0.7"/>
<line x1="366.90" y1="49.41" x2="516.15" y2="49.41" stroke="#c6c6c6" stroke-width="0.7"/>
<line x1="366.90" y1="38.24" x2="516.15" y2="38.24" stroke="#c6c6c6" stroke-width="0.7"/>
<line x1="366.90" y1="27.07" x2="516.15" y2="27.07" stroke="#c6c6c6" stroke-width="0.7"/>
<line x1="366.90" y1="15.90" x2="516.15" y2="15.90" stroke="#c6c6c6" stroke-width="0.7"/>
<line x1="367.20" y1="15.90" x2="367.20" y2="128.60" stroke="#bdbdbd" stroke-width="0.6"/>
<text transform="translate(365.00 129.00) scale(0.0800 0.1)" font-size="30.0" fill="#333" text-anchor="end" font-family="Liberation Sans, sans-serif">0</text>
<text transform="translate(365.00 117.83) scale(0.0800 0.1)" font-size="30.0" fill="#333" text-anchor="end" font-family="Liberation Sans, sans-serif">10</text>
<text transform="translate(365.00 106.66) scale(0.0800 0.1)" font-size="30.0" fill="#333" text-anchor="end" font-family="Liberation Sans, sans-serif">20</text>
<text transform="translate(365.00 95.49) scale(0.0800 0.1)" font-size="30.0" fill="#333" text-anchor="end" font-family="Liberation Sans, sans-serif">30</text>
<text transform="translate(365.00 84.32) scale(0.0800 0.1)" font-size="30.0" fill="#333" text-anchor="end" font-family="Liberation Sans, sans-serif">40</text>
<text transform="translate(365.00 73.15) scale(0.0800 0.1)" font-size="30.0" fill="#333" text-anchor="end" font-family="Liberation Sans, sans-serif">50</text>
<text transform="translate(365.00 61.98) scale(0.0800 0.1)" font-size="30.0" fill="#333" text-anchor="end" font-family="Liberation Sans, sans-serif">60</text>
<text transform="translate(365.00 50.81) scale(0.0800 0.1)" font-size="30.0" fill="#333" text-anchor="end" font-family="Liberation Sans, sans-serif">70</text>
<text transform="translate(365.00 39.64) scale(0.0800 0.1)" font-size="30.0" fill="#333" text-anchor="end" font-family="Liberation Sans, sans-serif">80</text>
<text transform="translate(365.00 28.47) scale(0.0800 0.1)" font-size="30.0" fill="#333" text-anchor="end" font-family="Liberation Sans, sans-serif">90</text>
<text transform="translate(365.00 17.30) scale(0.0800 0.1)" font-size="30.0" fill="#333" text-anchor="end" font-family="Liberation Sans, sans-serif">100</text>
<text transform="translate(367.20 133.60) scale(0.0800 0.1)" font-size="30.0" fill="#333" text-anchor="middle" font-family="Liberation Sans, sans-serif">0</text>
<text transform="translate(383.75 133.60) scale(0.0800 0.1)" font-size="30.0" fill="#333" text-anchor="middle" font-family="Liberation Sans, sans-serif">0.5</text>
<text transform="translate(400.30 133.60) scale(0.0800 0.1)" font-size="30.0" fill="#333" text-anchor="middle" font-family="Liberation Sans, sans-serif">1</text>
<text transform="translate(416.85 133.60) scale(0.0800 0.1)" font-size="30.0" fill="#333" text-anchor="middle" font-family="Liberation Sans, sans-serif">1.5</text>
<text transform="translate(433.40 133.60) scale(0.0800 0.1)" font-size="30.0" fill="#333" text-anchor="middle" font-family="Liberation Sans, sans-serif">2</text>
<text transform="translate(449.95 133.60) scale(0.0800 0.1)" font-size="30.0" fill="#333" text-anchor="middle" font-family="Liberation Sans, sans-serif">2.5</text>
<text transform="translate(466.50 133.60) scale(0.0800 0.1)" font-size="30.0" fill="#333" text-anchor="middle" font-family="Liberation Sans, sans-serif">3</text>
<text transform="translate(483.05 133.60) scale(0.0800 0.1)" font-size="30.0" fill="#333" text-anchor="middle" font-family="Liberation Sans, sans-serif">3.5</text>
<text transform="translate(499.60 133.60) scale(0.0800 0.1)" font-size="30.0" fill="#333" text-anchor="middle" font-family="Liberation Sans, sans-serif">4</text>
<text transform="translate(516.15 133.60) scale(0.0800 0.1)" font-size="30.0" fill="#333" text-anchor="middle" font-family="Liberation Sans, sans-serif">4.5</text>
<clipPath id="cC"><rect x="366.20" y="15.30" width="150.95" height="114.70"/></clipPath>
<g clip-path="url(#cC)" fill="none">
<path d="M367.15 127.00 C367.26 126.48 367.61 124.93 367.83 123.90 C368.06 122.86 368.28 121.83 368.50 120.79 C368.71 119.76 368.93 118.73 369.14 117.69 C369.35 116.66 369.56 115.62 369.76 114.59 C369.96 113.56 370.16 112.52 370.36 111.49 C370.56 110.45 370.75 109.42 370.95 108.38 C371.14 107.35 371.33 106.32 371.51 105.28 C371.70 104.25 371.88 103.21 372.06 102.18 C372.24 101.15 372.42 100.11 372.59 99.08 C372.77 98.04 372.94 97.01 373.11 95.97 C373.28 94.94 373.45 93.91 373.62 92.87 C373.78 91.84 373.95 90.80 374.11 89.77 C374.27 88.74 374.43 87.70 374.59 86.67 C374.74 85.63 374.90 84.60 375.05 83.56 C375.21 82.53 375.36 81.50 375.51 80.46 C375.66 79.43 375.81 78.39 375.95 77.36 C376.10 76.32 376.25 75.29 376.39 74.26 C376.53 73.22 376.68 72.19 376.82 71.15 C376.96 70.12 377.10 69.09 377.24 68.05 C377.38 67.02 377.51 65.98 377.65 64.95 C377.79 63.91 377.92 62.88 378.06 61.85 C378.19 60.81 378.32 59.78 378.46 58.74 C378.59 57.71 378.72 56.68 378.85 55.64 C378.98 54.61 379.11 53.57 379.24 52.54 C379.38 51.50 379.50 50.47 379.63 49.44 C379.76 48.40 379.89 47.37 380.02 46.33 C380.15 45.30 380.28 44.26 380.41 43.23 C380.54 42.20 380.67 41.16 380.79 40.13 C380.92 39.09 381.05 38.06 381.18 37.03 C381.31 35.99 381.44 34.96 381.57 33.92 C381.70 32.89 381.83 31.85 381.96 30.82 C382.09 29.79 382.22 28.75 382.35 27.72 C382.48 26.68 382.61 25.65 382.74 24.62 C382.88 23.58 383.01 22.55 383.14 21.51 C383.28 20.48 383.41 19.44 383.55 18.41 C383.68 17.38 383.82 16.34 383.96 15.31 C384.10 14.27 384.24 13.24 384.38 12.21 C384.52 11.17 384.66 10.14 384.80 9.10 C384.95 8.07 385.16 6.52 385.24 6.00" stroke="#3c3c3c" stroke-width="0.75"/>
<path d="M367.20 127.00 C368.50 126.67 372.25 126.05 375.00 125.00 C377.75 123.95 380.87 122.78 383.70 120.70 C386.53 118.62 389.25 115.28 392.00 112.50 C394.75 109.72 397.53 106.03 400.20 104.00 C402.87 101.97 405.37 101.64 408.00 100.30 C410.63 98.96 414.37 96.89 416.00 95.97 C417.63 95.05 417.20 95.19 417.79 94.77 C418.39 94.35 418.99 93.92 419.59 93.47 C420.19 93.02 420.79 92.55 421.38 92.07 C421.98 91.59 422.58 91.09 423.18 90.58 C423.78 90.07 424.38 89.55 424.97 89.01 C425.57 88.47 426.17 87.92 426.77 87.35 C427.37 86.78 427.97 86.20 428.56 85.61 C429.16 85.01 429.76 84.40 430.36 83.78 C430.96 83.16 431.56 82.53 432.15 81.89 C432.75 81.24 433.35 80.59 433.95 79.92 C434.55 79.25 435.15 78.57 435.74 77.88 C436.34 77.19 436.94 76.48 437.54 75.77 C438.14 75.06 438.74 74.34 439.33 73.60 C439.93 72.87 440.53 72.12 441.13 71.37 C441.73 70.62 442.32 69.86 442.92 69.08 C443.52 68.31 444.12 67.53 444.72 66.74 C445.32 65.95 445.91 65.15 446.51 64.35 C447.11 63.54 447.71 62.73 448.31 61.91 C448.91 61.09 449.50 60.26 450.10 59.42 C450.70 58.58 451.30 57.74 451.90 56.89 C452.50 56.04 453.09 55.18 453.69 54.32 C454.29 53.46 454.89 52.59 455.49 51.72 C456.09 50.84 456.68 49.97 457.28 49.08 C457.88 48.20 458.48 47.31 459.08 46.41 C459.68 45.52 460.27 44.62 460.87 43.72 C461.47 42.82 462.07 41.91 462.67 41.00 C463.26 40.09 463.86 39.18 464.46 38.26 C465.06 37.35 465.66 36.43 466.26 35.51 C466.85 34.59 467.45 33.66 468.05 32.74 C468.65 31.81 469.25 30.89 469.85 29.96 C470.44 29.03 471.04 28.10 471.64 27.17 C472.24 26.24 472.84 25.30 473.44 24.37 C474.03 23.44 474.63 22.51 475.23 21.57 C475.83 20.64 476.43 19.71 477.03 18.78 C477.62 17.84 478.22 16.91 478.82 15.98 C479.42 15.05 480.02 14.12 480.62 13.20 C481.21 12.27 481.81 11.34 482.41 10.42 C483.01 9.50 483.61 8.58 484.21 7.66 C484.80 6.74 485.70 5.37 486.00 4.91" stroke="#444" stroke-width="0.70"/>
<rect x="382.85" y="119.85" width="1.7" height="1.7" fill="#444" stroke="none"/>
<rect x="399.35" y="103.15" width="1.7" height="1.7" fill="#444" stroke="none"/>
<path d="M367.20 127.00 C368.00 125.83 370.70 121.92 372.00 120.00 C373.30 118.08 373.75 117.50 375.00 115.50 C376.25 113.50 377.67 109.88 379.50 108.00 C381.33 106.12 383.75 104.63 386.00 104.20 C388.25 103.77 390.63 105.40 393.00 105.40 C395.37 105.40 397.20 103.90 400.20 104.20 C403.20 104.50 407.70 106.00 411.00 107.20 C414.30 108.40 416.17 110.33 420.00 111.40 C423.83 112.47 429.00 113.42 434.00 113.60 C439.00 113.78 444.00 113.10 450.00 112.50 C456.00 111.90 461.75 111.08 470.00 110.00 C478.25 108.92 494.58 106.67 499.50 106.00" stroke="#686868" stroke-width="0.65"/>
<rect x="399.35" y="103.35" width="1.7" height="1.7" fill="#686868" stroke="none"/>
<rect x="433.15" y="112.75" width="1.7" height="1.7" fill="#686868" stroke="none"/>
<rect x="498.65" y="105.15" width="1.7" height="1.7" fill="#686868" stroke="none"/>
<path d="M367.20 127.00 C369.95 126.93 378.20 126.67 383.70 126.60 C389.20 126.53 393.32 126.70 400.20 126.60 C407.08 126.50 419.37 126.22 425.00 126.00 C430.63 125.78 430.67 125.93 434.00 125.30 C437.33 124.67 434.08 125.25 445.00 122.20 C455.92 119.15 490.42 109.53 499.50 107.00" stroke="#686868" stroke-width="0.65"/>
<rect x="433.15" y="124.45" width="1.7" height="1.7" fill="#686868" stroke="none"/>
<rect x="498.65" y="106.15" width="1.7" height="1.7" fill="#686868" stroke="none"/>
<path d="M367.20 126.48 C369.96 126.45 378.23 126.48 383.75 126.26 C389.27 126.04 392.03 125.20 400.30 125.14 C408.57 125.09 416.85 125.74 433.40 125.92 C449.95 126.11 488.57 126.20 499.60 126.26" stroke="#777" stroke-width="0.50"/>
<rect x="366.40" y="125.68" width="1.6" height="1.6" fill="#444" stroke="none"/>
<rect x="382.95" y="125.46" width="1.6" height="1.6" fill="#444" stroke="none"/>
<rect x="399.50" y="124.34" width="1.6" height="1.6" fill="#444" stroke="none"/>
<rect x="432.60" y="125.12" width="1.6" height="1.6" fill="#444" stroke="none"/>
<rect x="498.80" y="125.46" width="1.6" height="1.6" fill="#444" stroke="none"/>
<path d="M367.20 126.48 C369.96 126.48 378.23 126.52 383.75 126.48 C389.27 126.45 392.03 126.22 400.30 126.26 C408.57 126.30 416.85 126.63 433.40 126.71 C449.95 126.78 488.57 126.71 499.60 126.71" stroke="#9a9a9a" stroke-width="0.50"/>
<rect x="366.40" y="125.68" width="1.6" height="1.6" fill="#666" stroke="none"/>
<rect x="382.95" y="125.68" width="1.6" height="1.6" fill="#666" stroke="none"/>
<rect x="399.50" y="125.46" width="1.6" height="1.6" fill="#666" stroke="none"/>
<rect x="432.60" y="125.91" width="1.6" height="1.6" fill="#666" stroke="none"/>
<rect x="498.80" y="125.91" width="1.6" height="1.6" fill="#666" stroke="none"/>
<path d="M367.20 126.48 C369.96 126.48 378.23 126.63 383.75 126.48 C389.27 126.33 392.03 125.66 400.30 125.59 C408.57 125.51 416.85 126.00 433.40 126.04 C449.95 126.07 488.57 125.85 499.60 125.81" stroke="#b8b8b8" stroke-width="0.50"/>
<rect x="366.40" y="125.68" width="1.6" height="1.6" fill="#999" stroke="none"/>
<rect x="382.95" y="125.68" width="1.6" height="1.6" fill="#999" stroke="none"/>
<rect x="399.50" y="124.79" width="1.6" height="1.6" fill="#999" stroke="none"/>
<rect x="432.60" y="125.24" width="1.6" height="1.6" fill="#999" stroke="none"/>
<rect x="498.80" y="125.01" width="1.6" height="1.6" fill="#999" stroke="none"/>
</g>
<rect x="478.50" y="44.60" width="21.00" height="54.50" fill="#fff"/>
<line x1="480.50" y1="47.60" x2="486.50" y2="47.60" stroke="#1a1a1a" stroke-width="0.6"/>
<rect x="482.65" y="46.75" width="1.70" height="1.70" fill="#1a1a1a"/>
<text transform="translate(487.00 48.60) scale(0.0660 0.1)" font-size="29.0" fill="#4c4c4c" font-weight="bold" font-family="Liberation Sans, sans-serif">KLF2</text>
<line x1="480.50" y1="52.85" x2="486.50" y2="52.85" stroke="#2a2a2a" stroke-width="0.6"/>
<rect x="482.75" y="52.10" width="1.50" height="1.50" fill="#2a2a2a"/>
<text transform="translate(487.00 53.85) scale(0.0660 0.1)" font-size="29.0" fill="#4c4c4c" font-weight="bold" font-family="Liberation Sans, sans-serif">FHIT</text>
<line x1="480.50" y1="58.10" x2="486.50" y2="58.10" stroke="#777" stroke-width="0.6"/>
<rect x="482.85" y="57.45" width="1.30" height="1.30" fill="#777"/>
<text transform="translate(487.00 59.10) scale(0.0660 0.1)" font-size="29.0" fill="#4c4c4c" font-weight="bold" font-family="Liberation Sans, sans-serif">HOXA9</text>
<line x1="480.50" y1="63.35" x2="486.50" y2="63.35" stroke="#444" stroke-width="0.6"/>
<rect x="482.85" y="62.70" width="1.30" height="1.30" fill="#444"/>
<text transform="translate(487.00 64.35) scale(0.0660 0.1)" font-size="29.0" fill="#4c4c4c" font-weight="bold" font-family="Liberation Sans, sans-serif">KRT15</text>
<line x1="480.50" y1="68.60" x2="486.50" y2="68.60" stroke="#666" stroke-width="0.6"/>
<rect x="482.85" y="67.95" width="1.30" height="1.30" fill="#666"/>
<text transform="translate(487.00 69.60) scale(0.0660 0.1)" font-size="29.0" fill="#4c4c4c" font-weight="bold" font-family="Liberation Sans, sans-serif">DAPK1</text>
<line x1="480.50" y1="73.85" x2="486.50" y2="73.85" stroke="#333" stroke-width="0.6"/>
<rect x="482.80" y="73.15" width="1.40" height="1.40" fill="#333"/>
<text transform="translate(487.00 74.85) scale(0.0660 0.1)" font-size="29.0" fill="#4c4c4c" font-weight="bold" font-family="Liberation Sans, sans-serif">DAPK</text>
<line x1="480.50" y1="79.10" x2="486.50" y2="79.10" stroke="#666" stroke-width="0.6"/>
<rect x="482.95" y="78.55" width="1.10" height="1.10" fill="#666"/>
<text transform="translate(487.00 80.10) scale(0.0660 0.1)" font-size="29.0" fill="#4c4c4c" font-weight="bold" font-family="Liberation Sans, sans-serif">CCR6</text>
<line x1="480.50" y1="84.35" x2="486.50" y2="84.35" stroke="#777" stroke-width="0.6"/>
<text transform="translate(487.00 85.35) scale(0.0660 0.1)" font-size="29.0" fill="#4c4c4c" font-weight="bold" font-family="Liberation Sans, sans-serif">LIFR</text>
<line x1="480.50" y1="89.60" x2="486.50" y2="89.60" stroke="#aaa" stroke-width="0.6"/>
<text transform="translate(487.00 90.60) scale(0.0660 0.1)" font-size="29.0" fill="#4c4c4c" font-weight="bold" font-family="Liberation Sans, sans-serif">CASPASE8</text>
<line x1="480.50" y1="94.85" x2="486.50" y2="94.85" stroke="#666" stroke-width="0.6"/>
<rect x="482.90" y="94.25" width="1.20" height="1.20" fill="#666"/>
<text transform="translate(487.00 95.85) scale(0.0660 0.1)" font-size="29.0" fill="#4c4c4c" font-weight="bold" font-family="Liberation Sans, sans-serif">LRB</text>
<text transform="translate(387.80 21.80) scale(0.1000 0.1)" font-size="42.0" fill="#111" stroke="#111" stroke-width="0.3" textLength="322.0" lengthAdjust="spacingAndGlyphs" font-family="Liberation Sans, sans-serif">Max = 1097 at 4 μM</text>
<text transform="translate(478.75 26.30) scale(0.1000 0.1)" font-size="42.0" fill="#111" stroke="#111" stroke-width="0.3" textLength="300.0" lengthAdjust="spacingAndGlyphs" font-family="Liberation Sans, sans-serif">Max = 128 @ 4 μM</text>
<text transform="translate(378.75 10.90) scale(0.1000 0.1)" font-size="51.0" fill="#000" font-weight="bold" stroke="#000" stroke-width="1.4" textLength="1335.0" lengthAdjust="spacingAndGlyphs" font-family="Liberation Sans, sans-serif">Copy Number Fold Change with decitabine tx at 72 hrs: HB1119</text>
<text transform="translate(352.40 9.90) scale(0.1060 0.1)" font-size="113.0" fill="#000" font-weight="bold" stroke="#000" stroke-width="2.0" font-family="Liberation Sans, sans-serif">C</text>
<text transform="translate(406.25 140.00) scale(0.1000 0.1)" font-size="46.0" fill="#0a0a0a" font-weight="bold" stroke="#0a0a0a" stroke-width="1.0" textLength="690.0" lengthAdjust="spacingAndGlyphs" font-family="Liberation Sans, sans-serif">5-Aza-2'-deoxycytidine (micromolar)</text>
<text transform="translate(356.80 71.20) rotate(-90) scale(0.1000 0.1)" font-size="46.0" fill="#0a0a0a" text-anchor="middle" font-weight="bold" stroke="#0a0a0a" stroke-width="1.0" textLength="496.0" lengthAdjust="spacingAndGlyphs" font-family="Liberation Sans, sans-serif">Copy Number Fold Change</text>
<line x1="13.45" y1="282.75" x2="163.60" y2="282.75" stroke="#b4b4b4" stroke-width="0.7"/>
<line x1="13.45" y1="271.60" x2="163.60" y2="271.60" stroke="#c6c6c6" stroke-width="0.7"/>
<line x1="13.45" y1="260.45" x2="163.60" y2="260.45" stroke="#c6c6c6" stroke-width="0.7"/>
<line x1="13.45" y1="249.30" x2="163.60" y2="249.30" stroke="#c6c6c6" stroke-width="0.7"/>
<line x1="13.45" y1="238.15" x2="163.60" y2="238.15" stroke="#c6c6c6" stroke-width="0.7"/>
<line x1="13.45" y1="227.00" x2="163.60" y2="227.00" stroke="#c6c6c6" stroke-width="0.7"/>
<line x1="13.45" y1="215.85" x2="163.60" y2="215.85" stroke="#c6c6c6" stroke-width="0.7"/>
<line x1="13.45" y1="204.70" x2="163.60" y2="204.70" stroke="#c6c6c6" stroke-width="0.7"/>
<line x1="13.45" y1="193.55" x2="163.60" y2="193.55" stroke="#c6c6c6" stroke-width="0.7"/>
<line x1="13.45" y1="182.40" x2="163.60" y2="182.40" stroke="#c6c6c6" stroke-width="0.7"/>
<line x1="13.45" y1="171.25" x2="163.60" y2="171.25" stroke="#c6c6c6" stroke-width="0.7"/>
<line x1="13.75" y1="171.25" x2="13.75" y2="283.75" stroke="#bdbdbd" stroke-width="0.6"/>
<text transform="translate(11.55 284.15) scale(0.0800 0.1)" font-size="30.0" fill="#333" text-anchor="end" font-family="Liberation Sans, sans-serif">0</text>
<text transform="translate(11.55 273.00) scale(0.0800 0.1)" font-size="30.0" fill="#333" text-anchor="end" font-family="Liberation Sans, sans-serif">10</text>
<text transform="translate(11.55 261.85) scale(0.0800 0.1)" font-size="30.0" fill="#333" text-anchor="end" font-family="Liberation Sans, sans-serif">20</text>
<text transform="translate(11.55 250.70) scale(0.0800 0.1)" font-size="30.0" fill="#333" text-anchor="end" font-family="Liberation Sans, sans-serif">30</text>
<text transform="translate(11.55 239.55) scale(0.0800 0.1)" font-size="30.0" fill="#333" text-anchor="end" font-family="Liberation Sans, sans-serif">40</text>
<text transform="translate(11.55 228.40) scale(0.0800 0.1)" font-size="30.0" fill="#333" text-anchor="end" font-family="Liberation Sans, sans-serif">50</text>
<text transform="translate(11.55 217.25) scale(0.0800 0.1)" font-size="30.0" fill="#333" text-anchor="end" font-family="Liberation Sans, sans-serif">60</text>
<text transform="translate(11.55 206.10) scale(0.0800 0.1)" font-size="30.0" fill="#333" text-anchor="end" font-family="Liberation Sans, sans-serif">70</text>
<text transform="translate(11.55 194.95) scale(0.0800 0.1)" font-size="30.0" fill="#333" text-anchor="end" font-family="Liberation Sans, sans-serif">80</text>
<text transform="translate(11.55 183.80) scale(0.0800 0.1)" font-size="30.0" fill="#333" text-anchor="end" font-family="Liberation Sans, sans-serif">90</text>
<text transform="translate(11.55 172.65) scale(0.0800 0.1)" font-size="30.0" fill="#333" text-anchor="end" font-family="Liberation Sans, sans-serif">100</text>
<text transform="translate(13.75 290.10) scale(0.0800 0.1)" font-size="30.0" fill="#333" text-anchor="middle" font-family="Liberation Sans, sans-serif">0</text>
<text transform="translate(30.40 290.10) scale(0.0800 0.1)" font-size="30.0" fill="#333" text-anchor="middle" font-family="Liberation Sans, sans-serif">0.5</text>
<text transform="translate(47.05 290.10) scale(0.0800 0.1)" font-size="30.0" fill="#333" text-anchor="middle" font-family="Liberation Sans, sans-serif">1</text>
<text transform="translate(63.70 290.10) scale(0.0800 0.1)" font-size="30.0" fill="#333" text-anchor="middle" font-family="Liberation Sans, sans-serif">1.5</text>
<text transform="translate(80.35 290.10) scale(0.0800 0.1)" font-size="30.0" fill="#333" text-anchor="middle" font-family="Liberation Sans, sans-serif">2</text>
<text transform="translate(97.00 290.10) scale(0.0800 0.1)" font-size="30.0" fill="#333" text-anchor="middle" font-family="Liberation Sans, sans-serif">2.5</text>
<text transform="translate(113.65 290.10) scale(0.0800 0.1)" font-size="30.0" fill="#333" text-anchor="middle" font-family="Liberation Sans, sans-serif">3</text>
<text transform="translate(130.30 290.10) scale(0.0800 0.1)" font-size="30.0" fill="#333" text-anchor="middle" font-family="Liberation Sans, sans-serif">3.5</text>
<text transform="translate(146.95 290.10) scale(0.0800 0.1)" font-size="30.0" fill="#333" text-anchor="middle" font-family="Liberation Sans, sans-serif">4</text>
<text transform="translate(163.60 290.10) scale(0.0800 0.1)" font-size="30.0" fill="#333" text-anchor="middle" font-family="Liberation Sans, sans-serif">4.5</text>
<clipPath id="cD"><rect x="12.75" y="170.65" width="151.85" height="114.50"/></clipPath>
<g clip-path="url(#cD)" fill="none">
<path d="M13.75 281.63 C16.52 281.02 24.85 278.05 30.40 277.96 C35.95 277.86 38.72 280.93 47.05 281.08 C55.38 281.23 63.70 278.98 80.35 278.85 C97.00 278.72 135.85 280.06 146.95 280.30" stroke="#777" stroke-width="0.50"/>
<rect x="12.95" y="280.83" width="1.6" height="1.6" fill="#444" stroke="none"/>
<rect x="29.60" y="277.16" width="1.6" height="1.6" fill="#444" stroke="none"/>
<rect x="46.25" y="280.28" width="1.6" height="1.6" fill="#444" stroke="none"/>
<rect x="79.55" y="278.05" width="1.6" height="1.6" fill="#444" stroke="none"/>
<rect x="146.15" y="279.50" width="1.6" height="1.6" fill="#444" stroke="none"/>
<path d="M13.75 281.63 C16.52 281.54 24.85 281.36 30.40 281.08 C35.95 280.80 38.72 280.46 47.05 279.96 C55.38 279.46 63.70 278.12 80.35 278.07 C97.00 278.01 135.85 279.37 146.95 279.63" stroke="#9a9a9a" stroke-width="0.50"/>
<rect x="12.95" y="280.83" width="1.6" height="1.6" fill="#666" stroke="none"/>
<rect x="29.60" y="280.28" width="1.6" height="1.6" fill="#666" stroke="none"/>
<rect x="46.25" y="279.16" width="1.6" height="1.6" fill="#666" stroke="none"/>
<rect x="79.55" y="277.27" width="1.6" height="1.6" fill="#666" stroke="none"/>
<rect x="146.15" y="278.83" width="1.6" height="1.6" fill="#666" stroke="none"/>
<path d="M13.75 281.63 C16.52 281.63 24.85 281.67 30.40 281.63 C35.95 281.60 38.72 281.49 47.05 281.41 C55.38 281.34 63.70 281.15 80.35 281.19 C97.00 281.23 135.85 281.56 146.95 281.63" stroke="#b8b8b8" stroke-width="0.50"/>
<rect x="12.95" y="280.83" width="1.6" height="1.6" fill="#999" stroke="none"/>
<rect x="29.60" y="280.83" width="1.6" height="1.6" fill="#999" stroke="none"/>
<rect x="46.25" y="280.61" width="1.6" height="1.6" fill="#999" stroke="none"/>
<rect x="79.55" y="280.39" width="1.6" height="1.6" fill="#999" stroke="none"/>
<rect x="146.15" y="280.83" width="1.6" height="1.6" fill="#999" stroke="none"/>
<path d="M13.75 281.63 C16.52 281.30 24.85 279.63 30.40 279.63 C35.95 279.63 38.72 281.39 47.05 281.63 C55.38 281.88 63.70 281.19 80.35 281.08 C97.00 280.97 135.85 280.98 146.95 280.97" stroke="#8a8a8a" stroke-width="0.50"/>
<rect x="12.95" y="280.83" width="1.6" height="1.6" fill="#777" stroke="none"/>
<rect x="29.60" y="278.83" width="1.6" height="1.6" fill="#777" stroke="none"/>
<rect x="46.25" y="280.83" width="1.6" height="1.6" fill="#777" stroke="none"/>
<rect x="79.55" y="280.28" width="1.6" height="1.6" fill="#777" stroke="none"/>
<rect x="146.15" y="280.17" width="1.6" height="1.6" fill="#777" stroke="none"/>
</g>
<rect x="133.00" y="190.50" width="20.50" height="54.50" fill="#fff"/>
<line x1="136.50" y1="193.50" x2="141.50" y2="193.50" stroke="#1a1a1a" stroke-width="0.6"/>
<rect x="138.15" y="192.65" width="1.70" height="1.70" fill="#1a1a1a"/>
<text transform="translate(142.00 194.50) scale(0.0660 0.1)" font-size="29.0" fill="#4c4c4c" font-weight="bold" font-family="Liberation Sans, sans-serif">KLF2</text>
<line x1="136.50" y1="198.75" x2="141.50" y2="198.75" stroke="#2a2a2a" stroke-width="0.6"/>
<rect x="138.25" y="198.00" width="1.50" height="1.50" fill="#2a2a2a"/>
<text transform="translate(142.00 199.75) scale(0.0660 0.1)" font-size="29.0" fill="#4c4c4c" font-weight="bold" font-family="Liberation Sans, sans-serif">FHIT</text>
<line x1="136.50" y1="204.00" x2="141.50" y2="204.00" stroke="#777" stroke-width="0.6"/>
<rect x="138.35" y="203.35" width="1.30" height="1.30" fill="#777"/>
<text transform="translate(142.00 205.00) scale(0.0660 0.1)" font-size="29.0" fill="#4c4c4c" font-weight="bold" font-family="Liberation Sans, sans-serif">HOXA9</text>
<line x1="136.50" y1="209.25" x2="141.50" y2="209.25" stroke="#444" stroke-width="0.6"/>
<rect x="138.35" y="208.60" width="1.30" height="1.30" fill="#444"/>
<text transform="translate(142.00 210.25) scale(0.0660 0.1)" font-size="29.0" fill="#4c4c4c" font-weight="bold" font-family="Liberation Sans, sans-serif">KRT15</text>
<line x1="136.50" y1="214.50" x2="141.50" y2="214.50" stroke="#666" stroke-width="0.6"/>
<rect x="138.35" y="213.85" width="1.30" height="1.30" fill="#666"/>
<text transform="translate(142.00 215.50) scale(0.0660 0.1)" font-size="29.0" fill="#4c4c4c" font-weight="bold" font-family="Liberation Sans, sans-serif">DAPK1</text>
<line x1="136.50" y1="219.75" x2="141.50" y2="219.75" stroke="#333" stroke-width="0.6"/>
<rect x="138.30" y="219.05" width="1.40" height="1.40" fill="#333"/>
<text transform="translate(142.00 220.75) scale(0.0660 0.1)" font-size="29.0" fill="#4c4c4c" font-weight="bold" font-family="Liberation Sans, sans-serif">DAPK</text>
<line x1="136.50" y1="225.00" x2="141.50" y2="225.00" stroke="#666" stroke-width="0.6"/>
<rect x="138.45" y="224.45" width="1.10" height="1.10" fill="#666"/>
<text transform="translate(142.00 226.00) scale(0.0660 0.1)" font-size="29.0" fill="#4c4c4c" font-weight="bold" font-family="Liberation Sans, sans-serif">CCR6</text>
<line x1="136.50" y1="230.25" x2="141.50" y2="230.25" stroke="#777" stroke-width="0.6"/>
<text transform="translate(142.00 231.25) scale(0.0660 0.1)" font-size="29.0" fill="#4c4c4c" font-weight="bold" font-family="Liberation Sans, sans-serif">LIFR</text>
<line x1="136.50" y1="235.50" x2="141.50" y2="235.50" stroke="#aaa" stroke-width="0.6"/>
<text transform="translate(142.00 236.50) scale(0.0660 0.1)" font-size="29.0" fill="#4c4c4c" font-weight="bold" font-family="Liberation Sans, sans-serif">CASPASE8</text>
<line x1="136.50" y1="240.75" x2="141.50" y2="240.75" stroke="#666" stroke-width="0.6"/>
<rect x="138.40" y="240.15" width="1.20" height="1.20" fill="#666"/>
<text transform="translate(142.00 241.75) scale(0.0660 0.1)" font-size="29.0" fill="#4c4c4c" font-weight="bold" font-family="Liberation Sans, sans-serif">LRB</text>
<text transform="translate(26.25 166.50) scale(0.1000 0.1)" font-size="51.0" fill="#000" font-weight="bold" stroke="#000" stroke-width="1.4" textLength="1335.0" lengthAdjust="spacingAndGlyphs" font-family="Liberation Sans, sans-serif">Copy Number Fold Change with decitabine tx at 72 hrs: NALM6</text>
<text transform="translate(1.70 162.90) scale(0.1060 0.1)" font-size="113.0" fill="#000" font-weight="bold" stroke="#000" stroke-width="2.0" font-family="Liberation Sans, sans-serif">D</text>
<text transform="translate(54.60 296.10) scale(0.1000 0.1)" font-size="46.0" fill="#0a0a0a" font-weight="bold" stroke="#0a0a0a" stroke-width="1.0" textLength="692.0" lengthAdjust="spacingAndGlyphs" font-family="Liberation Sans, sans-serif">5-Aza-2'-deoxycytidine (micromolar)</text>
<text transform="translate(3.80 225.30) rotate(-90) scale(0.1000 0.1)" font-size="46.0" fill="#0a0a0a" text-anchor="middle" font-weight="bold" stroke="#0a0a0a" stroke-width="1.0" textLength="466.0" lengthAdjust="spacingAndGlyphs" font-family="Liberation Sans, sans-serif">Copy Number Fold Change</text>
<line x1="189.70" y1="282.90" x2="339.40" y2="282.90" stroke="#b4b4b4" stroke-width="0.7"/>
<line x1="189.70" y1="271.74" x2="339.40" y2="271.74" stroke="#c6c6c6" stroke-width="0.7"/>
<line x1="189.70" y1="260.58" x2="339.40" y2="260.58" stroke="#c6c6c6" stroke-width="0.7"/>
<line x1="189.70" y1="249.42" x2="339.40" y2="249.42" stroke="#c6c6c6" stroke-width="0.7"/>
<line x1="189.70" y1="238.26" x2="339.40" y2="238.26" stroke="#c6c6c6" stroke-width="0.7"/>
<line x1="189.70" y1="227.10" x2="339.40" y2="227.10" stroke="#c6c6c6" stroke-width="0.7"/>
<line x1="189.70" y1="215.94" x2="339.40" y2="215.94" stroke="#c6c6c6" stroke-width="0.7"/>
<line x1="189.70" y1="204.78" x2="339.40" y2="204.78" stroke="#c6c6c6" stroke-width="0.7"/>
<line x1="189.70" y1="193.62" x2="339.40" y2="193.62" stroke="#c6c6c6" stroke-width="0.7"/>
<line x1="189.70" y1="182.46" x2="339.40" y2="182.46" stroke="#c6c6c6" stroke-width="0.7"/>
<line x1="189.70" y1="171.30" x2="339.40" y2="171.30" stroke="#c6c6c6" stroke-width="0.7"/>
<line x1="190.00" y1="171.30" x2="190.00" y2="283.90" stroke="#bdbdbd" stroke-width="0.6"/>
<text transform="translate(187.80 284.30) scale(0.0800 0.1)" font-size="30.0" fill="#333" text-anchor="end" font-family="Liberation Sans, sans-serif">0</text>
<text transform="translate(187.80 273.14) scale(0.0800 0.1)" font-size="30.0" fill="#333" text-anchor="end" font-family="Liberation Sans, sans-serif">10</text>
<text transform="translate(187.80 261.98) scale(0.0800 0.1)" font-size="30.0" fill="#333" text-anchor="end" font-family="Liberation Sans, sans-serif">20</text>
<text transform="translate(187.80 250.82) scale(0.0800 0.1)" font-size="30.0" fill="#333" text-anchor="end" font-family="Liberation Sans, sans-serif">30</text>
<text transform="translate(187.80 239.66) scale(0.0800 0.1)" font-size="30.0" fill="#333" text-anchor="end" font-family="Liberation Sans, sans-serif">40</text>
<text transform="translate(187.80 228.50) scale(0.0800 0.1)" font-size="30.0" fill="#333" text-anchor="end" font-family="Liberation Sans, sans-serif">50</text>
<text transform="translate(187.80 217.34) scale(0.0800 0.1)" font-size="30.0" fill="#333" text-anchor="end" font-family="Liberation Sans, sans-serif">60</text>
<text transform="translate(187.80 206.18) scale(0.0800 0.1)" font-size="30.0" fill="#333" text-anchor="end" font-family="Liberation Sans, sans-serif">70</text>
<text transform="translate(187.80 195.02) scale(0.0800 0.1)" font-size="30.0" fill="#333" text-anchor="end" font-family="Liberation Sans, sans-serif">80</text>
<text transform="translate(187.80 183.86) scale(0.0800 0.1)" font-size="30.0" fill="#333" text-anchor="end" font-family="Liberation Sans, sans-serif">90</text>
<text transform="translate(187.80 172.70) scale(0.0800 0.1)" font-size="30.0" fill="#333" text-anchor="end" font-family="Liberation Sans, sans-serif">100</text>
<text transform="translate(190.00 289.80) scale(0.0800 0.1)" font-size="30.0" fill="#333" text-anchor="middle" font-family="Liberation Sans, sans-serif">0</text>
<text transform="translate(206.60 289.80) scale(0.0800 0.1)" font-size="30.0" fill="#333" text-anchor="middle" font-family="Liberation Sans, sans-serif">0.5</text>
<text transform="translate(223.20 289.80) scale(0.0800 0.1)" font-size="30.0" fill="#333" text-anchor="middle" font-family="Liberation Sans, sans-serif">1</text>
<text transform="translate(239.80 289.80) scale(0.0800 0.1)" font-size="30.0" fill="#333" text-anchor="middle" font-family="Liberation Sans, sans-serif">1.5</text>
<text transform="translate(256.40 289.80) scale(0.0800 0.1)" font-size="30.0" fill="#333" text-anchor="middle" font-family="Liberation Sans, sans-serif">2</text>
<text transform="translate(273.00 289.80) scale(0.0800 0.1)" font-size="30.0" fill="#333" text-anchor="middle" font-family="Liberation Sans, sans-serif">2.5</text>
<text transform="translate(289.60 289.80) scale(0.0800 0.1)" font-size="30.0" fill="#333" text-anchor="middle" font-family="Liberation Sans, sans-serif">3</text>
<text transform="translate(306.20 289.80) scale(0.0800 0.1)" font-size="30.0" fill="#333" text-anchor="middle" font-family="Liberation Sans, sans-serif">3.5</text>
<text transform="translate(322.80 289.80) scale(0.0800 0.1)" font-size="30.0" fill="#333" text-anchor="middle" font-family="Liberation Sans, sans-serif">4</text>
<text transform="translate(339.40 289.80) scale(0.0800 0.1)" font-size="30.0" fill="#333" text-anchor="middle" font-family="Liberation Sans, sans-serif">4.5</text>
<clipPath id="cE"><rect x="189.00" y="170.70" width="151.40" height="114.60"/></clipPath>
<g clip-path="url(#cE)" fill="none">
<path d="M190.00 281.78 C192.77 281.75 201.07 281.58 206.60 281.56 C212.13 281.54 214.90 281.64 223.20 281.67 C231.50 281.71 239.80 281.88 256.40 281.78 C273.00 281.69 311.73 281.23 322.80 281.11" stroke="#777" stroke-width="0.50"/>
<rect x="189.20" y="280.98" width="1.6" height="1.6" fill="#444" stroke="none"/>
<rect x="205.80" y="280.76" width="1.6" height="1.6" fill="#444" stroke="none"/>
<rect x="222.40" y="280.87" width="1.6" height="1.6" fill="#444" stroke="none"/>
<rect x="255.60" y="280.98" width="1.6" height="1.6" fill="#444" stroke="none"/>
<rect x="322.00" y="280.31" width="1.6" height="1.6" fill="#444" stroke="none"/>
<path d="M190.00 281.78 C192.77 281.78 201.07 281.82 206.60 281.78 C212.13 281.75 214.90 281.52 223.20 281.56 C231.50 281.60 239.80 281.93 256.40 282.01 C273.00 282.08 311.73 282.01 322.80 282.01" stroke="#9a9a9a" stroke-width="0.50"/>
<rect x="189.20" y="280.98" width="1.6" height="1.6" fill="#666" stroke="none"/>
<rect x="205.80" y="280.98" width="1.6" height="1.6" fill="#666" stroke="none"/>
<rect x="222.40" y="280.76" width="1.6" height="1.6" fill="#666" stroke="none"/>
<rect x="255.60" y="281.21" width="1.6" height="1.6" fill="#666" stroke="none"/>
<rect x="322.00" y="281.21" width="1.6" height="1.6" fill="#666" stroke="none"/>
<path d="M190.00 281.78 C192.77 281.82 201.07 282.01 206.60 282.01 C212.13 282.01 214.90 281.84 223.20 281.78 C231.50 281.73 239.80 281.71 256.40 281.67 C273.00 281.64 311.73 281.58 322.80 281.56" stroke="#b8b8b8" stroke-width="0.50"/>
<rect x="189.20" y="280.98" width="1.6" height="1.6" fill="#999" stroke="none"/>
<rect x="205.80" y="281.21" width="1.6" height="1.6" fill="#999" stroke="none"/>
<rect x="222.40" y="280.98" width="1.6" height="1.6" fill="#999" stroke="none"/>
<rect x="255.60" y="280.87" width="1.6" height="1.6" fill="#999" stroke="none"/>
<rect x="322.00" y="280.76" width="1.6" height="1.6" fill="#999" stroke="none"/>
</g>
<rect x="298.00" y="190.50" width="21.00" height="54.50" fill="#fff"/>
<line x1="301.00" y1="193.50" x2="307.00" y2="193.50" stroke="#1a1a1a" stroke-width="0.6"/>
<rect x="303.15" y="192.65" width="1.70" height="1.70" fill="#1a1a1a"/>
<text transform="translate(307.50 194.50) scale(0.0660 0.1)" font-size="29.0" fill="#4c4c4c" font-weight="bold" font-family="Liberation Sans, sans-serif">KLF2</text>
<line x1="301.00" y1="198.75" x2="307.00" y2="198.75" stroke="#2a2a2a" stroke-width="0.6"/>
<rect x="303.25" y="198.00" width="1.50" height="1.50" fill="#2a2a2a"/>
<text transform="translate(307.50 199.75) scale(0.0660 0.1)" font-size="29.0" fill="#4c4c4c" font-weight="bold" font-family="Liberation Sans, sans-serif">FHIT</text>
<line x1="301.00" y1="204.00" x2="307.00" y2="204.00" stroke="#777" stroke-width="0.6"/>
<rect x="303.35" y="203.35" width="1.30" height="1.30" fill="#777"/>
<text transform="translate(307.50 205.00) scale(0.0660 0.1)" font-size="29.0" fill="#4c4c4c" font-weight="bold" font-family="Liberation Sans, sans-serif">HOXA9</text>
<line x1="301.00" y1="209.25" x2="307.00" y2="209.25" stroke="#444" stroke-width="0.6"/>
<rect x="303.35" y="208.60" width="1.30" height="1.30" fill="#444"/>
<text transform="translate(307.50 210.25) scale(0.0660 0.1)" font-size="29.0" fill="#4c4c4c" font-weight="bold" font-family="Liberation Sans, sans-serif">KRT15</text>
<line x1="301.00" y1="214.50" x2="307.00" y2="214.50" stroke="#666" stroke-width="0.6"/>
<rect x="303.35" y="213.85" width="1.30" height="1.30" fill="#666"/>
<text transform="translate(307.50 215.50) scale(0.0660 0.1)" font-size="29.0" fill="#4c4c4c" font-weight="bold" font-family="Liberation Sans, sans-serif">DAPK1</text>
<line x1="301.00" y1="219.75" x2="307.00" y2="219.75" stroke="#333" stroke-width="0.6"/>
<rect x="303.30" y="219.05" width="1.40" height="1.40" fill="#333"/>
<text transform="translate(307.50 220.75) scale(0.0660 0.1)" font-size="29.0" fill="#4c4c4c" font-weight="bold" font-family="Liberation Sans, sans-serif">DAPK</text>
<line x1="301.00" y1="225.00" x2="307.00" y2="225.00" stroke="#666" stroke-width="0.6"/>
<rect x="303.45" y="224.45" width="1.10" height="1.10" fill="#666"/>
<text transform="translate(307.50 226.00) scale(0.0660 0.1)" font-size="29.0" fill="#4c4c4c" font-weight="bold" font-family="Liberation Sans, sans-serif">CCR6</text>
<line x1="301.00" y1="230.25" x2="307.00" y2="230.25" stroke="#777" stroke-width="0.6"/>
<text transform="translate(307.50 231.25) scale(0.0660 0.1)" font-size="29.0" fill="#4c4c4c" font-weight="bold" font-family="Liberation Sans, sans-serif">LIFR</text>
<line x1="301.00" y1="235.50" x2="307.00" y2="235.50" stroke="#aaa" stroke-width="0.6"/>
<text transform="translate(307.50 236.50) scale(0.0660 0.1)" font-size="29.0" fill="#4c4c4c" font-weight="bold" font-family="Liberation Sans, sans-serif">CASPASE8</text>
<line x1="301.00" y1="240.75" x2="307.00" y2="240.75" stroke="#666" stroke-width="0.6"/>
<rect x="303.40" y="240.15" width="1.20" height="1.20" fill="#666"/>
<text transform="translate(307.50 241.75) scale(0.0660 0.1)" font-size="29.0" fill="#4c4c4c" font-weight="bold" font-family="Liberation Sans, sans-serif">LRB</text>
<text transform="translate(206.25 166.50) scale(0.1000 0.1)" font-size="51.0" fill="#000" font-weight="bold" stroke="#000" stroke-width="1.4" textLength="1260.0" lengthAdjust="spacingAndGlyphs" font-family="Liberation Sans, sans-serif">Copy Number Fold Change with decitabine tx at 72 hrs: 380</text>
<text transform="translate(176.70 161.20) scale(0.1060 0.1)" font-size="113.0" fill="#000" font-weight="bold" stroke="#000" stroke-width="2.0" font-family="Liberation Sans, sans-serif">E</text>
<text transform="translate(230.75 295.40) scale(0.1000 0.1)" font-size="46.0" fill="#0a0a0a" font-weight="bold" stroke="#0a0a0a" stroke-width="1.0" textLength="670.0" lengthAdjust="spacingAndGlyphs" font-family="Liberation Sans, sans-serif">5-Aza-2'-deoxycytidine (micromolar)</text>
<text transform="translate(179.70 226.60) rotate(-90) scale(0.1000 0.1)" font-size="46.0" fill="#0a0a0a" text-anchor="middle" font-weight="bold" stroke="#0a0a0a" stroke-width="1.0" textLength="480.0" lengthAdjust="spacingAndGlyphs" font-family="Liberation Sans, sans-serif">Copy Number Fold Change</text>
<line x1="367.30" y1="283.20" x2="516.64" y2="283.20" stroke="#b4b4b4" stroke-width="0.7"/>
<line x1="367.30" y1="272.03" x2="516.64" y2="272.03" stroke="#c6c6c6" stroke-width="0.7"/>
<line x1="367.30" y1="260.86" x2="516.64" y2="260.86" stroke="#c6c6c6" stroke-width="0.7"/>
<line x1="367.30" y1="249.69" x2="516.64" y2="249.69" stroke="#c6c6c6" stroke-width="0.7"/>
<line x1="367.30" y1="238.52" x2="516.64" y2="238.52" stroke="#c6c6c6" stroke-width="0.7"/>
<line x1="367.30" y1="227.35" x2="516.64" y2="227.35" stroke="#c6c6c6" stroke-width="0.7"/>
<line x1="367.30" y1="216.18" x2="516.64" y2="216.18" stroke="#c6c6c6" stroke-width="0.7"/>
<line x1="367.30" y1="205.01" x2="516.64" y2="205.01" stroke="#c6c6c6" stroke-width="0.7"/>
<line x1="367.30" y1="193.84" x2="516.64" y2="193.84" stroke="#c6c6c6" stroke-width="0.7"/>
<line x1="367.30" y1="182.67" x2="516.64" y2="182.67" stroke="#c6c6c6" stroke-width="0.7"/>
<line x1="367.30" y1="171.50" x2="516.64" y2="171.50" stroke="#c6c6c6" stroke-width="0.7"/>
<line x1="367.60" y1="171.50" x2="367.60" y2="284.20" stroke="#bdbdbd" stroke-width="0.6"/>
<text transform="translate(365.40 284.60) scale(0.0800 0.1)" font-size="30.0" fill="#333" text-anchor="end" font-family="Liberation Sans, sans-serif">0</text>
<text transform="translate(365.40 273.43) scale(0.0800 0.1)" font-size="30.0" fill="#333" text-anchor="end" font-family="Liberation Sans, sans-serif">10</text>
<text transform="translate(365.40 262.26) scale(0.0800 0.1)" font-size="30.0" fill="#333" text-anchor="end" font-family="Liberation Sans, sans-serif">20</text>
<text transform="translate(365.40 251.09) scale(0.0800 0.1)" font-size="30.0" fill="#333" text-anchor="end" font-family="Liberation Sans, sans-serif">30</text>
<text transform="translate(365.40 239.92) scale(0.0800 0.1)" font-size="30.0" fill="#333" text-anchor="end" font-family="Liberation Sans, sans-serif">40</text>
<text transform="translate(365.40 228.75) scale(0.0800 0.1)" font-size="30.0" fill="#333" text-anchor="end" font-family="Liberation Sans, sans-serif">50</text>
<text transform="translate(365.40 217.58) scale(0.0800 0.1)" font-size="30.0" fill="#333" text-anchor="end" font-family="Liberation Sans, sans-serif">60</text>
<text transform="translate(365.40 206.41) scale(0.0800 0.1)" font-size="30.0" fill="#333" text-anchor="end" font-family="Liberation Sans, sans-serif">70</text>
<text transform="translate(365.40 195.24) scale(0.0800 0.1)" font-size="30.0" fill="#333" text-anchor="end" font-family="Liberation Sans, sans-serif">80</text>
<text transform="translate(365.40 184.07) scale(0.0800 0.1)" font-size="30.0" fill="#333" text-anchor="end" font-family="Liberation Sans, sans-serif">90</text>
<text transform="translate(365.40 172.90) scale(0.0800 0.1)" font-size="30.0" fill="#333" text-anchor="end" font-family="Liberation Sans, sans-serif">100</text>
<text transform="translate(367.60 290.10) scale(0.0800 0.1)" font-size="30.0" fill="#333" text-anchor="middle" font-family="Liberation Sans, sans-serif">0</text>
<text transform="translate(384.16 290.10) scale(0.0800 0.1)" font-size="30.0" fill="#333" text-anchor="middle" font-family="Liberation Sans, sans-serif">0.5</text>
<text transform="translate(400.72 290.10) scale(0.0800 0.1)" font-size="30.0" fill="#333" text-anchor="middle" font-family="Liberation Sans, sans-serif">1</text>
<text transform="translate(417.28 290.10) scale(0.0800 0.1)" font-size="30.0" fill="#333" text-anchor="middle" font-family="Liberation Sans, sans-serif">1.5</text>
<text transform="translate(433.84 290.10) scale(0.0800 0.1)" font-size="30.0" fill="#333" text-anchor="middle" font-family="Liberation Sans, sans-serif">2</text>
<text transform="translate(450.40 290.10) scale(0.0800 0.1)" font-size="30.0" fill="#333" text-anchor="middle" font-family="Liberation Sans, sans-serif">2.5</text>
<text transform="translate(466.96 290.10) scale(0.0800 0.1)" font-size="30.0" fill="#333" text-anchor="middle" font-family="Liberation Sans, sans-serif">3</text>
<text transform="translate(483.52 290.10) scale(0.0800 0.1)" font-size="30.0" fill="#333" text-anchor="middle" font-family="Liberation Sans, sans-serif">3.5</text>
<text transform="translate(500.08 290.10) scale(0.0800 0.1)" font-size="30.0" fill="#333" text-anchor="middle" font-family="Liberation Sans, sans-serif">4</text>
<text transform="translate(516.64 290.10) scale(0.0800 0.1)" font-size="30.0" fill="#333" text-anchor="middle" font-family="Liberation Sans, sans-serif">4.5</text>
<clipPath id="cF"><rect x="366.60" y="170.90" width="151.04" height="114.70"/></clipPath>
<g clip-path="url(#cF)" fill="none">
<path d="M367.60 282.08 C370.36 282.05 378.64 281.88 384.16 281.86 C389.68 281.84 392.44 281.93 400.72 281.97 C409.00 282.01 417.28 282.12 433.84 282.08 C450.40 282.05 489.04 281.80 500.08 281.75" stroke="#777" stroke-width="0.50"/>
<rect x="366.80" y="281.28" width="1.6" height="1.6" fill="#444" stroke="none"/>
<rect x="383.36" y="281.06" width="1.6" height="1.6" fill="#444" stroke="none"/>
<rect x="399.92" y="281.17" width="1.6" height="1.6" fill="#444" stroke="none"/>
<rect x="433.04" y="281.28" width="1.6" height="1.6" fill="#444" stroke="none"/>
<rect x="499.28" y="280.95" width="1.6" height="1.6" fill="#444" stroke="none"/>
<path d="M367.60 282.08 C370.36 282.08 378.64 282.12 384.16 282.08 C389.68 282.05 392.44 281.82 400.72 281.86 C409.00 281.90 417.28 282.23 433.84 282.31 C450.40 282.38 489.04 282.31 500.08 282.31" stroke="#9a9a9a" stroke-width="0.50"/>
<rect x="366.80" y="281.28" width="1.6" height="1.6" fill="#666" stroke="none"/>
<rect x="383.36" y="281.28" width="1.6" height="1.6" fill="#666" stroke="none"/>
<rect x="399.92" y="281.06" width="1.6" height="1.6" fill="#666" stroke="none"/>
<rect x="433.04" y="281.51" width="1.6" height="1.6" fill="#666" stroke="none"/>
<rect x="499.28" y="281.51" width="1.6" height="1.6" fill="#666" stroke="none"/>
<path d="M367.60 282.08 C370.36 282.12 378.64 282.31 384.16 282.31 C389.68 282.31 392.44 282.14 400.72 282.08 C409.00 282.03 417.28 281.97 433.84 281.97 C450.40 281.97 489.04 282.06 500.08 282.08" stroke="#b8b8b8" stroke-width="0.50"/>
<rect x="366.80" y="281.28" width="1.6" height="1.6" fill="#999" stroke="none"/>
<rect x="383.36" y="281.51" width="1.6" height="1.6" fill="#999" stroke="none"/>
<rect x="399.92" y="281.28" width="1.6" height="1.6" fill="#999" stroke="none"/>
<rect x="433.04" y="281.17" width="1.6" height="1.6" fill="#999" stroke="none"/>
<rect x="499.28" y="281.28" width="1.6" height="1.6" fill="#999" stroke="none"/>
</g>
<rect x="479.50" y="191.60" width="20.00" height="54.50" fill="#fff"/>
<line x1="481.00" y1="194.60" x2="487.50" y2="194.60" stroke="#1a1a1a" stroke-width="0.6"/>
<rect x="483.40" y="193.75" width="1.70" height="1.70" fill="#1a1a1a"/>
<text transform="translate(488.00 195.60) scale(0.0660 0.1)" font-size="29.0" fill="#4c4c4c" font-weight="bold" font-family="Liberation Sans, sans-serif">KLF2</text>
<line x1="481.00" y1="199.85" x2="487.50" y2="199.85" stroke="#2a2a2a" stroke-width="0.6"/>
<rect x="483.50" y="199.10" width="1.50" height="1.50" fill="#2a2a2a"/>
<text transform="translate(488.00 200.85) scale(0.0660 0.1)" font-size="29.0" fill="#4c4c4c" font-weight="bold" font-family="Liberation Sans, sans-serif">FHIT</text>
<line x1="481.00" y1="205.10" x2="487.50" y2="205.10" stroke="#777" stroke-width="0.6"/>
<rect x="483.60" y="204.45" width="1.30" height="1.30" fill="#777"/>
<text transform="translate(488.00 206.10) scale(0.0660 0.1)" font-size="29.0" fill="#4c4c4c" font-weight="bold" font-family="Liberation Sans, sans-serif">HOXA9</text>
<line x1="481.00" y1="210.35" x2="487.50" y2="210.35" stroke="#444" stroke-width="0.6"/>
<rect x="483.60" y="209.70" width="1.30" height="1.30" fill="#444"/>
<text transform="translate(488.00 211.35) scale(0.0660 0.1)" font-size="29.0" fill="#4c4c4c" font-weight="bold" font-family="Liberation Sans, sans-serif">KRT15</text>
<line x1="481.00" y1="215.60" x2="487.50" y2="215.60" stroke="#666" stroke-width="0.6"/>
<rect x="483.60" y="214.95" width="1.30" height="1.30" fill="#666"/>
<text transform="translate(488.00 216.60) scale(0.0660 0.1)" font-size="29.0" fill="#4c4c4c" font-weight="bold" font-family="Liberation Sans, sans-serif">DAPK1</text>
<line x1="481.00" y1="220.85" x2="487.50" y2="220.85" stroke="#333" stroke-width="0.6"/>
<rect x="483.55" y="220.15" width="1.40" height="1.40" fill="#333"/>
<text transform="translate(488.00 221.85) scale(0.0660 0.1)" font-size="29.0" fill="#4c4c4c" font-weight="bold" font-family="Liberation Sans, sans-serif">DAPK</text>
<line x1="481.00" y1="226.10" x2="487.50" y2="226.10" stroke="#666" stroke-width="0.6"/>
<rect x="483.70" y="225.55" width="1.10" height="1.10" fill="#666"/>
<text transform="translate(488.00 227.10) scale(0.0660 0.1)" font-size="29.0" fill="#4c4c4c" font-weight="bold" font-family="Liberation Sans, sans-serif">CCR6</text>
<line x1="481.00" y1="231.35" x2="487.50" y2="231.35" stroke="#777" stroke-width="0.6"/>
<text transform="translate(488.00 232.35) scale(0.0660 0.1)" font-size="29.0" fill="#4c4c4c" font-weight="bold" font-family="Liberation Sans, sans-serif">LIFR</text>
<line x1="481.00" y1="236.60" x2="487.50" y2="236.60" stroke="#aaa" stroke-width="0.6"/>
<text transform="translate(488.00 237.60) scale(0.0660 0.1)" font-size="29.0" fill="#4c4c4c" font-weight="bold" font-family="Liberation Sans, sans-serif">CASPASE8</text>
<line x1="481.00" y1="241.85" x2="487.50" y2="241.85" stroke="#666" stroke-width="0.6"/>
<rect x="483.65" y="241.25" width="1.20" height="1.20" fill="#666"/>
<text transform="translate(488.00 242.85) scale(0.0660 0.1)" font-size="29.0" fill="#4c4c4c" font-weight="bold" font-family="Liberation Sans, sans-serif">LRB</text>
<text transform="translate(378.75 166.50) scale(0.1000 0.1)" font-size="51.0" fill="#000" font-weight="bold" stroke="#000" stroke-width="1.4" textLength="1360.0" lengthAdjust="spacingAndGlyphs" font-family="Liberation Sans, sans-serif">Copy Number Fold Change with decitabine tx at 72 hrs: TANOUE</text>
<text transform="translate(353.70 162.10) scale(0.1060 0.1)" font-size="113.0" fill="#000" font-weight="bold" stroke="#000" stroke-width="2.0" font-family="Liberation Sans, sans-serif">F</text>
<text transform="translate(408.75 296.10) scale(0.1000 0.1)" font-size="46.0" fill="#0a0a0a" font-weight="bold" stroke="#0a0a0a" stroke-width="1.0" textLength="675.0" lengthAdjust="spacingAndGlyphs" font-family="Liberation Sans, sans-serif">5-Aza-2'-deoxycytidine (micromolar)</text>
<text transform="translate(357.40 225.00) rotate(-90) scale(0.1000 0.1)" font-size="46.0" fill="#0a0a0a" text-anchor="middle" font-weight="bold" stroke="#0a0a0a" stroke-width="1.0" textLength="448.0" lengthAdjust="spacingAndGlyphs" font-family="Liberation Sans, sans-serif">Copy Number Fold Change</text>
</g>
</svg>
</body></html>
